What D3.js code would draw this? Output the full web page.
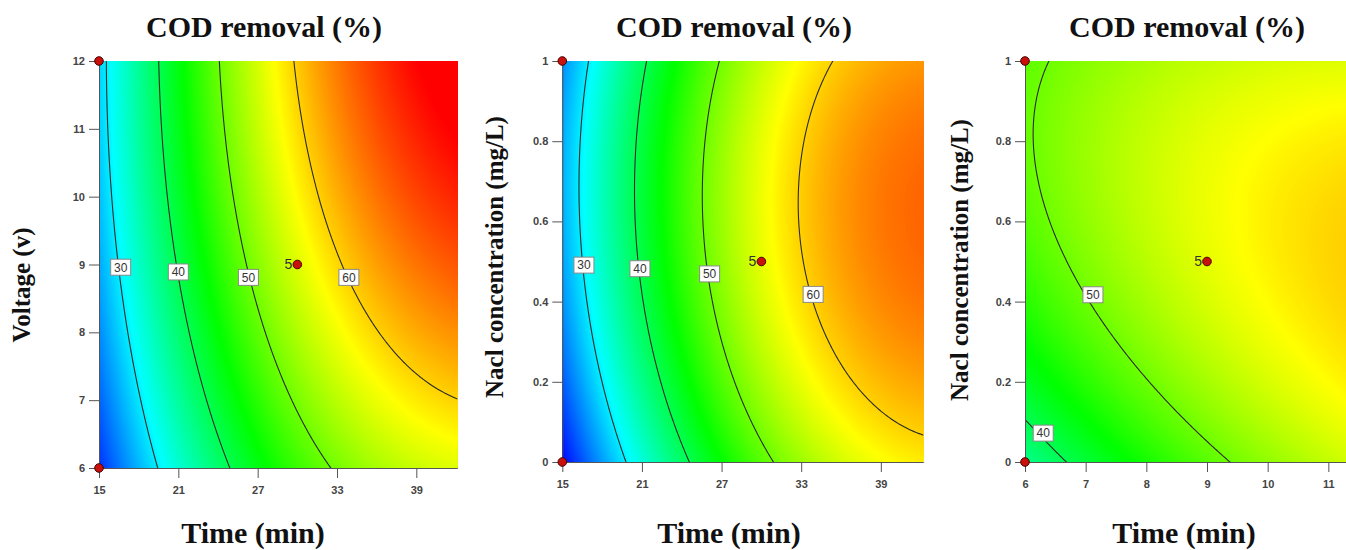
<!DOCTYPE html>
<html>
<head>
<meta charset="utf-8">
<script src="https://cdn.jsdelivr.net/npm/d3@7"></script>
<style>
  body { margin: 0; background: #fff; }
  svg { display: block; }
  .tick text { font-family: Arial, "Liberation Sans", sans-serif; font-size: 11px; fill: #444; font-weight: bold; }
  .tick line, .domain { stroke: #555; }
  .title, .axis-label { font-family: "Times New Roman", "Liberation Serif", serif; font-weight: bold; fill: #111; }
  .clabel { font-family: Arial, "Liberation Sans", sans-serif; font-size: 12px; fill: #333; }
</style>
</head>
<body>
<script>
// ---- chart data ----
var panelTitles = ["COD removal (%)", "COD removal (%)", "COD removal (%)"];
var xLabels = ["Time (min)", "Time (min)", "Time (min)"];
var yLabels = ["Voltage (v)", "Nacl concentration (mg/L)", "Nacl concentration (mg/L)"];

var xDomains = [[15, 42.1], [15, 42.2], [6, 12]];
var yDomains = [[6, 12], [0, 1], [0, 1]];
var xTicks = [[15, 21, 27, 33, 39], [15, 21, 27, 33, 39], [6, 7, 8, 9, 10, 11]];
var yTicks = [[6, 7, 8, 9, 10, 11, 12], [0, 0.2, 0.4, 0.6, 0.8, 1], [0, 0.2, 0.4, 0.6, 0.8, 1]];

// factor centre / half range used for coding (-1..1)
var xCenters = [30, 30, 9], xHalfRanges = [15, 15, 3];
var yCenters = [9, 0.5, 0.5], yHalfRanges = [3, 0.5, 0.5];

// quadratic response surfaces: [b0, bX, bY, bXY, bXX, bYY]
var modelTimeVoltage = [55.85, 20.5, 6.6, 2.4, -9.0, -2.05];
var modelTimeNacl = [56.3, 19.8, 2.85, -0.7, -10.5, -4.65];
var modelVoltageNacl = [56.3, 6.6, 2.85, -3.2, -2.05, -4.65];
var models = [modelTimeVoltage, modelTimeNacl, modelVoltageNacl];

var contourLevels = [[30, 40, 50, 60], [30, 40, 50, 60], [40, 50]];
var contourLabels = [
  [[16.64, 8.96], [21.0, 8.89], [26.3, 8.81], [33.9, 8.81]],
  [[16.63, 0.491], [20.85, 0.482], [26.1, 0.469], [33.9, 0.418]],
  [[6.3, 0.072], [7.12, 0.417]]
];
var designPoints = [
  [[15, 12], [15, 6], [30, 9]],
  [[15, 1], [15, 0], [30, 0.5]],
  [[6, 1], [6, 0], [9, 0.5]]
];
var centerRuns = [5, 5, 5];

// colour ramp of the response (blue-cyan-green-yellow-red)
var colorValues = [17.5, 30.875, 44.25, 57.625, 71];
var colorRange = ["#0000ff", "#00ffff", "#00ff00", "#ffff00", "#ff0000"];

// ---- layout ----
var layout = [
  { x0: 99, x1: 457.3, yb: 468, yt: 61, title: [264, 37], xlab: [253, 543], ylab: [30, 285] },
  { x0: 562.3, x1: 923.3, yb: 462, yt: 61, title: [734, 37], xlab: [729, 543], ylab: [503, 257] },
  { x0: 1025, x1: 1389, yb: 462, yt: 61, title: [1187, 37], xlab: [1184, 543], ylab: [968, 260] }
];

var width = 1346, height = 550;
var svg = d3.select("body").append("svg").attr("width", width).attr("height", height);
var defs = svg.append("defs");
var color = d3.scaleLinear().domain(colorValues).range(colorRange).clamp(true);

function response(coef, a, b) {
  return coef[0] + coef[1] * a + coef[2] * b + coef[3] * a * b + coef[4] * a * a + coef[5] * b * b;
}

layout.forEach(function (L, i) {
  var x = d3.scaleLinear().domain(xDomains[i]).range([L.x0, L.x1]);
  var y = d3.scaleLinear().domain(yDomains[i]).range([L.yb, L.yt]);
  var g = svg.append("g");

  defs.append("clipPath").attr("id", "clip" + i)
    .append("rect")
    .attr("x", L.x0).attr("y", L.yt)
    .attr("width", L.x1 - L.x0).attr("height", L.yb - L.yt);

  // sample the surface on a grid a bit larger than the plot
  var n = 200, m = 200;
  var xd = xDomains[i], yd = yDomains[i];
  var px = (xd[1] - xd[0]) * 0.02, py = (yd[1] - yd[0]) * 0.02;
  var gx0 = xd[0] - px, gy0 = yd[0] - py;
  var dx = (xd[1] - xd[0] + 2 * px) / (n - 1), dy = (yd[1] - yd[0] + 2 * py) / (m - 1);
  var values = new Array(n * m);
  for (var j = 0; j < m; j++) {
    for (var k = 0; k < n; k++) {
      var a = (gx0 + k * dx - xCenters[i]) / xHalfRanges[i];
      var b = (gy0 + j * dy - yCenters[i]) / yHalfRanges[i];
      values[j * n + k] = response(models[i], a, b);
    }
  }

  var path = d3.geoPath(d3.geoTransform({
    point: function (gx, gy) {
      this.stream.point(x(gx0 + (gx - 0.5) * dx), y(gy0 + (gy - 0.5) * dy));
    }
  }));

  var plot = g.append("g").attr("clip-path", "url(#clip" + i + ")");

  // colour fill: stacked filled bands
  var bands = d3.contours().size([n, m]).thresholds(d3.range(16, 76, 0.1))(values);
  plot.append("g").selectAll("path")
    .data(bands)
    .enter().append("path")
    .attr("d", path)
    .attr("fill", function (d) { return color(d.value + 0.05); });

  // contour lines
  var lines = d3.contours().size([n, m]).thresholds(contourLevels[i])(values);
  plot.append("g").selectAll("path")
    .data(lines)
    .enter().append("path")
    .attr("d", path)
    .attr("fill", "none")
    .attr("stroke", "#2b2b2b")
    .attr("stroke-width", 1.1);

  // contour labels
  var lab = plot.append("g").selectAll("g")
    .data(contourLabels[i].map(function (p, q) { return { p: p, v: contourLevels[i][q] }; }))
    .enter().append("g")
    .attr("transform", function (d) { return "translate(" + x(d.p[0]) + "," + y(d.p[1]) + ")"; });
  lab.append("rect")
    .attr("x", -10).attr("y", -8).attr("width", 20).attr("height", 16)
    .attr("fill", "#fff").attr("stroke", "#888").attr("stroke-width", 1);
  lab.append("text")
    .attr("class", "clabel")
    .attr("text-anchor", "middle").attr("dy", "0.36em")
    .text(function (d) { return d.v; });

  // axes
  g.append("g")
    .attr("transform", "translate(0," + L.yb + ")")
    .call(d3.axisBottom(x).tickValues(xTicks[i]).tickSize(10).tickSizeOuter(0).tickPadding(8)
      .tickFormat(function (d) { return String(d); }));
  g.append("g")
    .attr("transform", "translate(" + L.x0 + ",0)")
    .call(d3.axisLeft(y).tickValues(yTicks[i]).tickSize(10).tickSizeOuter(0).tickPadding(4)
      .tickFormat(function (d) { return String(d); }));

  // design points
  g.append("g").selectAll("circle")
    .data(designPoints[i])
    .enter().append("circle")
    .attr("cx", function (d) { return x(d[0]); })
    .attr("cy", function (d) { return y(d[1]); })
    .attr("r", 4.3)
    .attr("fill", "#c8100c")
    .attr("stroke", "#4a0000")
    .attr("stroke-width", 1);

  var c = designPoints[i][2];
  g.append("text")
    .attr("x", x(c[0]) - 5).attr("y", y(c[1]) + 4)
    .attr("text-anchor", "end")
    .style("font-family", "Arial, 'Liberation Sans', sans-serif")
    .style("font-size", "14px").style("fill", "#333")
    .text(centerRuns[i]);

  // titles and axis labels
  g.append("text").attr("class", "title")
    .attr("x", L.title[0]).attr("y", L.title[1])
    .attr("text-anchor", "middle").style("font-size", "30px")
    .text(panelTitles[i]);
  g.append("text").attr("class", "axis-label")
    .attr("x", L.xlab[0]).attr("y", L.xlab[1])
    .attr("text-anchor", "middle").style("font-size", "30px")
    .text(xLabels[i]);
  g.append("text").attr("class", "axis-label")
    .attr("transform", "translate(" + L.ylab[0] + "," + L.ylab[1] + ") rotate(-90)")
    .attr("text-anchor", "middle").style("font-size", "25px")
    .text(yLabels[i]);
});
</script>
</body>
</html>
